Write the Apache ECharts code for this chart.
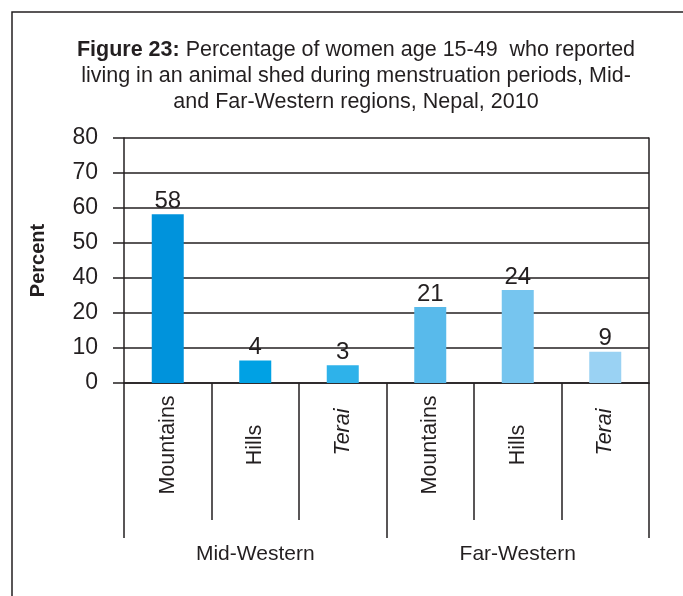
<!DOCTYPE html>
<html>
<head>
<meta charset="utf-8">
<script src="https://cdn.jsdelivr.net/npm/echarts@6/dist/echarts.min.js"></script>
<style>
  html, body { margin: 0; padding: 0; background: #fff; }
  #chart { width: 683px; height: 596px; }
</style>
</head>
<body>
<div id="chart"></div>
<script>
// categories and regions
var zones = ['Mountains', 'Hills', 'Terai', 'Mountains', 'Hills', 'Terai'];
var regions = ['Mid-Western', 'Far-Western'];
// printed percentages
var valueLabels = [58, 4, 3, 21, 24, 9];
// bar heights as drawn, in gridline units (one gridline = 10)
var barHeights = [48.2, 6.4, 5.1, 21.7, 26.6, 8.9];
// y tick labels as printed (the 30 line is labelled 40 etc.)
var yTickLabels = ['0', '10', '20', '40', '50', '60', '70', '80'];
var barColors = ['#0093dc', '#00a1e4', '#2eb2ea', '#58baeb', '#76c5ef', '#9ad2f3'];

var ink = '#231f20';
var font = 'Liberation Sans, Arial, sans-serif';

var chart = echarts.init(document.getElementById('chart'));

var option = {
    animation: false,
    textStyle: { fontFamily: font },
    title: {
        text: '{b|Figure 23:} Percentage of women age 15-49  who reported\nliving in an animal shed during menstruation periods, Mid-\nand Far-Western regions, Nepal, 2010',
        left: 351,
        top: 32,
        textAlign: 'center',
        textStyle: {
            fontSize: 21.5,
            fontWeight: 'normal',
            color: ink,
            lineHeight: 26,
            fontFamily: font,
            rich: {
                b: { fontSize: 21.5, fontWeight: 'bold', color: ink, lineHeight: 26, fontFamily: font }
            }
        }
    },
    graphic: [{
        type: 'rect',
        shape: { x: 12, y: 12, width: 700, height: 700 },
        style: { fill: 'none', stroke: ink, lineWidth: 1.5 }
    }],
    grid: { left: 124, right: 34, top: 138, bottom: 213 },
    xAxis: [{
        type: 'category',
        data: zones,
        axisLine: { show: true, lineStyle: { color: ink, width: 1.5 } },
        axisTick: { show: true, interval: 0, length: 137, lineStyle: { color: ink, width: 1.5 } },
        axisLabel: {
            interval: 0,
            rotate: 90,
            align: 'center',
            margin: 62,
            fontSize: 21.5,
            color: ink,
            formatter: function (v) {
                return v === 'Terai' ? '{i|' + v + '}' : v;
            },
            rich: { i: { fontStyle: 'italic', fontSize: 21.5, color: ink, padding: [0, 0, 0, 26] } }
        }
    }, {
        type: 'category',
        data: regions,
        position: 'bottom',
        offset: 0,
        axisLine: { show: false },
        axisTick: { show: true, interval: 0, length: 155, lineStyle: { color: ink, width: 1.5 } },
        axisLabel: { interval: 0, margin: 161, fontSize: 21, color: ink }
    }],
    yAxis: [{
        type: 'value',
        min: 0,
        max: 70,
        interval: 10,
        name: 'Percent',
        nameLocation: 'middle',
        nameGap: 76,
        nameRotate: 90,
        nameTextStyle: { fontSize: 20, fontWeight: 'bold', color: ink },
        axisLine: { show: true, lineStyle: { color: ink, width: 1.5 } },
        axisTick: { show: true, length: 11, lineStyle: { color: ink, width: 1.5 } },
        axisLabel: {
            margin: 26,
            fontSize: 23,
            color: ink,
            formatter: function (v) { return yTickLabels[Math.round(v / 10)]; }
        },
        splitLine: { show: true, lineStyle: { color: ink, width: 1.5 } }
    }, {
        type: 'value',
        position: 'right',
        min: 0,
        max: 70,
        interval: 10,
        axisLine: { show: true, lineStyle: { color: ink, width: 1.5 } },
        axisTick: { show: false },
        axisLabel: { show: false },
        splitLine: { show: false }
    }],
    series: [{
        type: 'bar',
        barWidth: 32,
        data: barHeights.map(function (h, i) {
            return { value: h, itemStyle: { color: barColors[i] } };
        }),
        label: {
            show: true,
            position: 'top',
            distance: 1,
            fontSize: 24,
            color: ink,
            formatter: function (p) { return valueLabels[p.dataIndex]; }
        }
    }]
};

chart.setOption(option);
</script>
</body>
</html>
